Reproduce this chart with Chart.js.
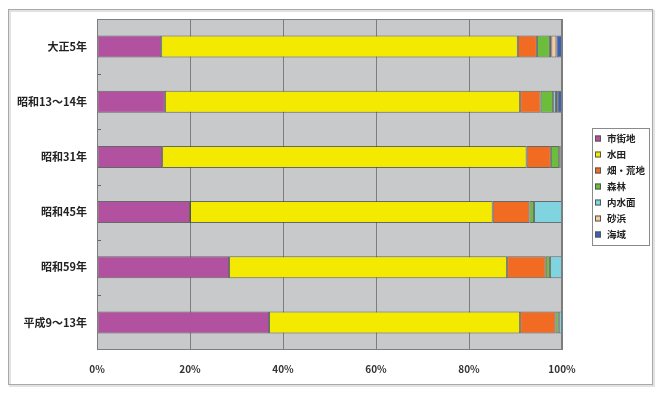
<!DOCTYPE html>
<html>
<head>
<meta charset="utf-8">
<script src="https://cdn.jsdelivr.net/npm/chart.js@4"></script>
<style>
  html, body { margin: 0; padding: 0; background: #fff; }
  #wrap { position: absolute; left: 0; top: 0; width: 662px; height: 395px; }
</style>
</head>
<body>
<div id="wrap"><canvas id="landChart" width="662" height="395"></canvas></div>
<script>
// land use share by period (%)
const categories = ["大正5年", "昭和13～14年", "昭和31年", "昭和45年", "昭和59年", "平成9～13年"];
const seriesNames = ["市街地", "水田", "畑・荒地", "森林", "内水面", "砂浜", "海域"];
const seriesColors = ["#b1519f", "#f3ea00", "#f26b22", "#6dbd3c", "#80d4e0", "#f7c99b", "#3b62b2"];

const urban  = [13.8, 14.6, 14.0, 20.0, 28.4, 37.0];
const paddy  = [76.7, 76.4, 78.4, 65.1, 59.8, 54.0];
const farm   = [4.1, 4.4, 5.2, 7.9, 8.3, 7.6];
const forest = [2.8, 2.7, 1.8, 1.0, 0.9, 0.7];
const inland = [0.3, 0.6, 0.3, 6.0, 2.6, 0.7];
const beach  = [1.1, 0.4, 0, 0, 0, 0];
const sea    = [1.2, 0.9, 0.3, 0, 0, 0];

const xTicks = [0, 20, 40, 60, 80, 100];

const allSeries = [urban, paddy, farm, forest, inland, beach, sea];
const FONT = "'Noto Sans CJK JP', 'Noto Sans', sans-serif";

const datasets = allSeries.map(function (vals, i) {
    return {
        label: seriesNames[i],
        data: vals,
        backgroundColor: seriesColors[i],
        borderColor: "rgba(70,70,70,0.75)",
        borderWidth: 1,
        borderSkipped: false,
        barPercentage: 0.4,
        categoryPercentage: 1.0
    };
});

// frame, plot background, small y ticks, legend box
const decor = {
    id: "decor",
    beforeDraw(chart) {
        const c = chart.ctx;
        const a = chart.chartArea;
        c.save();
        // outer frame
        c.strokeStyle = "#e2e2e2";
        c.lineWidth = 2;
        c.strokeRect(10, 11, 644, 375);
        c.strokeStyle = "#a9a9a9";
        c.lineWidth = 1;
        c.strokeRect(8.5, 9.5, 644, 375);
        // plot background
        c.fillStyle = "#c8c9cb";
        c.fillRect(a.left, a.top, a.right - a.left, a.bottom - a.top);
        c.restore();
    },
    afterDatasetsDraw(chart) {
        const c = chart.ctx;
        const a = chart.chartArea;
        const y = chart.scales.y;
        c.save();
        c.strokeStyle = "#7d7d7d";
        c.lineWidth = 1;
        c.strokeRect(Math.round(a.left) + 0.5, Math.round(a.top) + 0.5,
            Math.round(a.right - a.left) - 1, Math.round(a.bottom - a.top) - 1);
        // short ticks between categories
        c.strokeStyle = "#666";
        for (let i = 1; i < categories.length; i++) {
            const yy = Math.round((y.getPixelForTick(i - 1) + y.getPixelForTick(i)) / 2) + 0.5;
            c.beginPath();
            c.moveTo(a.left + 1, yy);
            c.lineTo(a.left + 4, yy);
            c.stroke();
        }
        // legend
        const lx = 592, ly = 128, lw = 57, lh = 117;
        c.fillStyle = "#fff";
        c.fillRect(lx, ly, lw, lh);
        c.strokeStyle = "#8a8a8a";
        c.strokeRect(lx + 0.5, ly + 0.5, lw, lh);
        c.font = "bold 9.5px " + FONT;
        c.textBaseline = "middle";
        c.textAlign = "left";
        seriesNames.forEach(function (name, i) {
            const cy = 138.5 + i * 16;
            c.fillStyle = seriesColors[i];
            c.fillRect(595, cy - 3, 6, 6);
            c.strokeStyle = "#555";
            c.strokeRect(595.5, cy - 2.5, 5, 5);
            c.fillStyle = "#222";
            c.fillText(name, 607, cy);
        });
        c.restore();
    }
};

new Chart(document.getElementById("landChart").getContext("2d"), {
    type: "bar",
    data: { labels: categories, datasets: datasets },
    options: {
        indexAxis: "y",
        responsive: false,
        animation: false,
        layout: { padding: { left: 0, top: 19, right: 100, bottom: 0 } },
        plugins: { legend: { display: false }, tooltip: { enabled: false } },
        scales: {
            x: {
                stacked: true,
                min: 0,
                max: 100,
                afterFit: function (s) { s.height = 45; },
                afterBuildTicks: function (s) { s.ticks = xTicks.map(function (v) { return { value: v }; }); },
                grid: { color: "#7d7d7d", lineWidth: 1, drawTicks: false },
                border: { display: false },
                ticks: {
                    padding: 13,
                    color: "#333",
                    font: { family: FONT, size: 10, weight: "bold" },
                    callback: function (v) { return v + "%"; }
                }
            },
            y: {
                stacked: true,
                afterFit: function (s) { s.width = 97; },
                grid: { display: false, drawTicks: false },
                border: { display: false },
                ticks: {
                    padding: 10,
                    color: "#222",
                    font: { family: FONT, size: 11, weight: "bold" }
                }
            }
        }
    },
    plugins: [decor]
});
</script>
</body>
</html>
